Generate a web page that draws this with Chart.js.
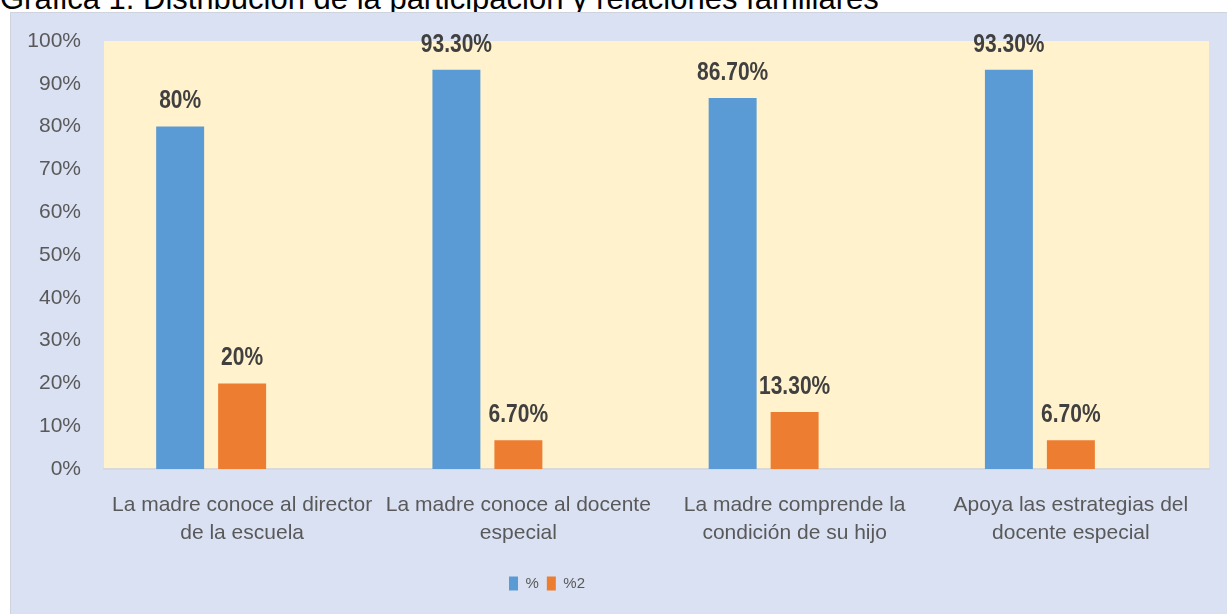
<!DOCTYPE html>
<html>
<head>
<meta charset="utf-8">
<script src="https://cdn.jsdelivr.net/npm/chart.js@4/dist/chart.umd.min.js"></script>
<style>
    html, body { margin: 0; padding: 0; background: #fff; width: 1227px; height: 614px; overflow: hidden; }
    #title {
        position: absolute; left: 0; top: -17px;
        font: 31px "Liberation Sans", Arial, sans-serif; line-height: 31px;
        color: #000; white-space: nowrap;
    }
    #box {
        position: absolute; left: 10px; top: 12px; width: 1217px; height: 602px;
        background: #dae1f3; border-left: 1px solid #cfd3de; border-top: 1px solid #cfd3de;
        box-sizing: border-box;
    }
</style>
</head>
<body>
<div id="title">Gráfica 1. Distribución de la participación y relaciones familiares</div>
<div id="box"><canvas id="chart"></canvas></div>
<script>
// Data
const categories = [
    ['La madre conoce al director', 'de la escuela'],
    ['La madre conoce al docente', 'especial'],
    ['La madre comprende la', 'condición de su hijo'],
    ['Apoya las estrategias del', 'docente especial']
];
const seriesNames = ['%', '%2'];
const pct1 = [80, 93.3, 86.7, 93.3];
const pct2 = [20, 6.7, 13.3, 6.7];
const labels1 = ['80%', '93.30%', '86.70%', '93.30%'];
const labels2 = ['20%', '6.70%', '13.30%', '6.70%'];
const yTicks = [0, 10, 20, 30, 40, 50, 60, 70, 80, 90, 100];

const sans = '"Liberation Sans", Arial, sans-serif';
const legendCenterX = 536; // Excel put the legend left of centre

// yellow plot area
const plotBg = {
    id: 'plotBg',
    beforeDraw(chart) {
        const { ctx, chartArea: a } = chart;
        ctx.save();
        ctx.fillStyle = '#fff2cc';
        ctx.fillRect(a.left, a.top, a.right - a.left, a.bottom - a.top);
        ctx.restore();
    }
};

// move the legend box sideways
const legendShift = {
    id: 'legendShift',
    afterLayout(chart) {
        const lg = chart.legend;
        if (!lg) return;
        const dx = legendCenterX - (lg.left + lg.right) / 2;
        lg.left += dx;
        lg.right += dx;
        lg.adjustHitBoxes();
    }
};

// bold value labels above the bars (squeezed a little, like the narrow source font)
const valueLabels = {
    id: 'valueLabels',
    afterDatasetsDraw(chart) {
        const ctx = chart.ctx;
        const texts = [labels1, labels2];
        texts.forEach((arr, di) => {
            chart.getDatasetMeta(di).data.forEach((bar, i) => {
                ctx.save();
                ctx.translate(bar.x, bar.y - 25);
                ctx.scale(0.84, 1);
                ctx.font = 'bold 25px ' + sans;
                ctx.fillStyle = '#404040';
                ctx.textAlign = 'center';
                ctx.textBaseline = 'middle';
                ctx.fillText(arr[i], 0, 0);
                ctx.restore();
            });
        });
    }
};

new Chart(document.getElementById('chart'), {
    type: 'bar',
    data: {
        labels: categories,
        datasets: [
            { label: seriesNames[0], data: pct1, backgroundColor: '#5b9bd5' },
            { label: seriesNames[1], data: pct2, backgroundColor: '#ed7d31' },
            // empty third series, keeps the Excel-style offset of the pair
            { label: '', data: categories.map(() => null), backgroundColor: 'rgba(0,0,0,0)' }
        ]
    },
    options: {
        responsive: true,
        maintainAspectRatio: false,
        animation: false,
        categoryPercentage: 0.673,
        barPercentage: 0.774,
        layout: { padding: { top: 28, right: 18, left: 0, bottom: 13 } },
        plugins: {
            legend: {
                position: 'bottom',
                labels: {
                    boxWidth: 9, boxHeight: 14, padding: 8,
                    color: '#595959',
                    font: { family: sans, size: 15 },
                    filter: item => item.datasetIndex < 2
                }
            },
            tooltip: { enabled: false }
        },
        scales: {
            x: {
                grid: { display: false, drawTicks: false },
                border: { display: true, color: '#d9d9d9', width: 2 },
                ticks: {
                    color: '#595959', padding: 23, maxRotation: 0, autoSkip: false,
                    font: { family: sans, size: 21, lineHeight: 1.3 }
                },
                afterFit: s => { s.height = 99; }
            },
            y: {
                min: 0, max: 100,
                grid: { display: false, drawTicks: false },
                border: { display: false },
                afterBuildTicks: s => { s.ticks = yTicks.map(v => ({ value: v })); },
                ticks: {
                    color: '#595959', padding: 23,
                    font: { family: sans, size: 21 },
                    callback: v => v + '%'
                },
                afterFit: s => { s.width = 93; s.paddingTop = 13; s.paddingBottom = 13; }
            }
        }
    },
    plugins: [plotBg, legendShift, valueLabels]
});
</script>
</body>
</html>
